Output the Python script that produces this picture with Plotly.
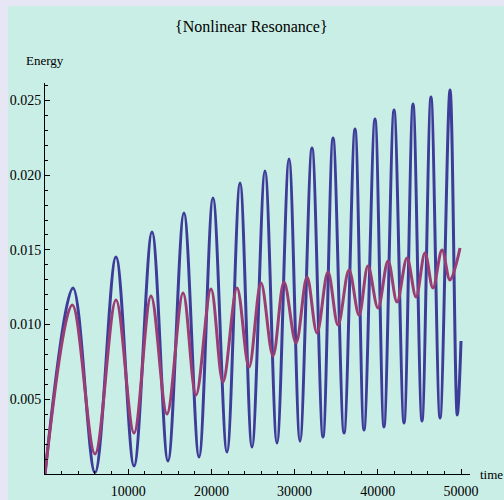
import plotly.graph_objects as go

# ---- data (extrema of each curve) ----
blue_t = [0, 3365, 6010, 8530, 10700, 12860, 14780, 16700, 18510, 20190, 21870,
          23440, 24880, 26440, 27880, 29330, 30650, 32090, 33410, 34620, 35940,
          37260, 38340, 39660, 40740, 41950, 43150, 44230, 45310, 46390, 47480,
          48680, 49550, 50000]
blue_e = [0.0, 0.01245, 0.0001, 0.01452, 0.00054, 0.0162, 0.00087, 0.01747, 0.00114,
          0.01847, 0.00147, 0.01948, 0.0018, 0.02028, 0.00207, 0.02108, 0.0022,
          0.02182, 0.00248, 0.02249, 0.00274, 0.02309, 0.00294, 0.02376, 0.00315,
          0.02436, 0.00341, 0.02477, 0.00355, 0.02523, 0.00375, 0.0257, 0.00395,
          0.0089]

red_t = [0, 3280, 6010, 8530, 10700, 12740, 14660, 16590, 18150, 19950, 21390,
         23080, 24520, 25960, 27400, 28730, 30170, 31490, 32690, 34010, 35220,
         36540, 37740, 38820, 40020, 41230, 42310, 43510, 44590, 45670, 46630,
         47720, 48680, 49880]
red_e = [0.0, 0.01131, 0.00134, 0.01165, 0.00274, 0.01191, 0.00402, 0.01211, 0.00529,
         0.01238, 0.00616, 0.01245, 0.00716, 0.01278, 0.0079, 0.01285, 0.00877,
         0.01319, 0.00944, 0.01352, 0.00997, 0.01365, 0.01064, 0.01392, 0.01111,
         0.01426, 0.01151, 0.01446, 0.01185, 0.01479, 0.01245, 0.01499, 0.01299,
         0.01513]

x_tickvals = [10000, 20000, 30000, 40000, 50000]
x_ticktext = ["10000", "20000", "30000", "40000", "50000"]
y_tickvals = [0.005, 0.010, 0.015, 0.020, 0.025]
y_ticktext = ["0.005", "0.010", "0.015", "0.020", "0.025"]

title_text = "{Nonlinear Resonance}"
y_label = "Energy"
x_label = "time"

BG = "#c9eee6"
FRAME = "#e6e6f4"
BLUE = "#3d3d99"
RED = "#993d74"
FONT = "Liberation Serif, DejaVu Serif, serif"

fig = go.Figure()
fig.add_trace(go.Scatter(x=blue_t, y=blue_e, mode="lines",
                         line=dict(color=BLUE, width=3, shape="spline", smoothing=1.0),
                         showlegend=False, hoverinfo="skip"))
fig.add_trace(go.Scatter(x=red_t, y=red_e, mode="lines",
                         line=dict(color=RED, width=3, shape="spline", smoothing=1.0),
                         showlegend=False, hoverinfo="skip"))

axis_common = dict(showgrid=False, zeroline=False, showline=True, linecolor="black",
                   linewidth=1, ticks="inside", ticklen=5, tickcolor="black",
                   tickwidth=1, automargin=False,
                   tickfont=dict(family=FONT, size=14, color="black"))

fig.update_xaxes(range=[0, 51080], tickmode="array", tickvals=x_tickvals,
                 ticktext=x_ticktext, ticklabelstandoff=4,
                 minor=dict(tickmode="linear", tick0=0, dtick=2000, ticks="inside",
                            ticklen=3, tickcolor="black", tickwidth=1),
                 **axis_common)
fig.update_yaxes(range=[0, 0.02617], tickmode="array", tickvals=y_tickvals,
                 ticktext=y_ticktext,
                 minor=dict(tickmode="linear", tick0=0, dtick=0.001, ticks="inside",
                            ticklen=3, tickcolor="black", tickwidth=1),
                 **axis_common)

fig.update_layout(
    width=504, height=500,
    margin=dict(l=45, r=34, t=83, b=26, autoexpand=False),
    paper_bgcolor=BG, plot_bgcolor=BG,
    showlegend=False,
    shapes=[
        dict(type="rect", xref="paper", yref="paper", x0=-1, x1=2,
             y0=1 + (83 - 6) / 391, y1=1 + 83 / 391 + 0.05,
             fillcolor=FRAME, line_width=0, layer="below"),
        dict(type="rect", xref="paper", yref="paper", x0=-45 / 425 - 0.05,
             x1=-45 / 425 + 8 / 425, y0=-1, y1=2,
             fillcolor=FRAME, line_width=0, layer="below"),
    ],
    annotations=[
        dict(text=title_text, xref="paper", yref="paper", x=(251 - 45) / 425,
             y=1 + (83 - 26) / 391, xanchor="center", yanchor="middle",
             showarrow=False, font=dict(family=FONT, size=16, color="black")),
        dict(text=y_label, xref="paper", yref="paper", x=(24 - 45) / 425,
             y=1 + (83 - 60) / 391, xanchor="left", yanchor="middle",
             showarrow=False, font=dict(family=FONT, size=13, color="black")),
        dict(text=x_label, xref="paper", yref="paper", x=(478 - 45) / 425,
             y=0, xanchor="left", yanchor="middle",
             showarrow=False, font=dict(family=FONT, size=13, color="black")),
    ],
)

fig.write_html("out.html")
